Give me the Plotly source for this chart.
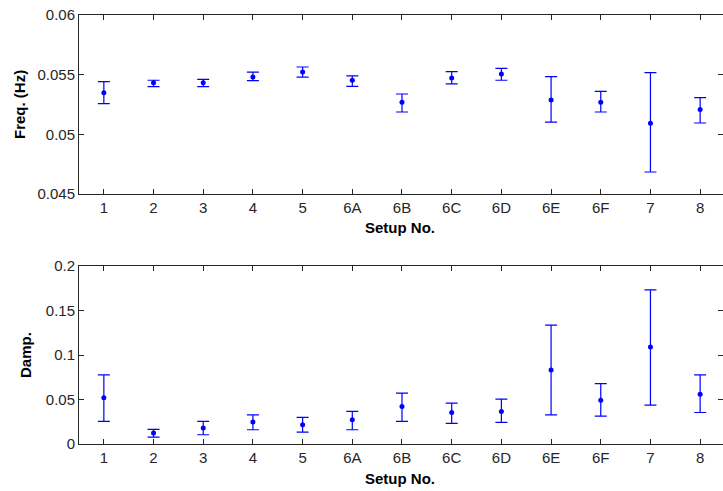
import plotly.graph_objects as go
from plotly.subplots import make_subplots

setups = ["1", "2", "3", "4", "5", "6A", "6B", "6C", "6D", "6E", "6F", "7", "8"]

freq_mean  = [0.05349, 0.05433, 0.05433, 0.05480, 0.05522, 0.05453, 0.05268, 0.05472, 0.05506, 0.05288, 0.05268, 0.05092, 0.05207]
freq_upper = [0.05441, 0.05453, 0.05461, 0.05522, 0.05564, 0.05489, 0.05338, 0.05525, 0.05553, 0.05483, 0.05360, 0.05517, 0.05307]
freq_lower = [0.05257, 0.05399, 0.05399, 0.05450, 0.05480, 0.05402, 0.05187, 0.05422, 0.05453, 0.05103, 0.05187, 0.04684, 0.05095]

damp_mean  = [0.0519, 0.0123, 0.0179, 0.0246, 0.0216, 0.0272, 0.0422, 0.0354, 0.0366, 0.0832, 0.0493, 0.1090, 0.0560]
damp_upper = [0.0776, 0.0164, 0.0254, 0.0328, 0.0299, 0.0366, 0.0571, 0.0459, 0.0504, 0.1336, 0.0679, 0.1731, 0.0776]
damp_lower = [0.0254, 0.0078, 0.0104, 0.0160, 0.0134, 0.0160, 0.0254, 0.0231, 0.0243, 0.0328, 0.0313, 0.0437, 0.0354]

freq_ticks = [0.045, 0.05, 0.055, 0.06]
freq_ticktext = ["0.045", "0.05", "0.055", "0.06"]
damp_ticks = [0, 0.05, 0.1, 0.15, 0.2]
damp_ticktext = ["0", "0.05", "0.1", "0.15", "0.2"]

BLUE = "#0000FF"
AX = "#262626"
FONT = "Liberation Sans, Arial, sans-serif"

fig = make_subplots(rows=2, cols=1)

def add_series(mean, upper, lower, row):
    fig.add_trace(go.Scatter(
        x=setups, y=mean, mode="markers",
        marker=dict(color=BLUE, size=5, symbol="circle"),
        error_y=dict(type="data", symmetric=False,
                     array=[u - m for u, m in zip(upper, mean)],
                     arrayminus=[m - l for m, l in zip(mean, lower)],
                     color=BLUE, thickness=1.2, width=6),
        showlegend=False), row=row, col=1)

add_series(freq_mean, freq_upper, freq_lower, 1)
add_series(damp_mean, damp_upper, damp_lower, 2)

xcommon = dict(type="category", categoryorder="array", categoryarray=setups,
               range=[-0.5, 12.46], showline=True, linecolor=AX, linewidth=1,
               mirror="ticks", ticks="inside", ticklen=5, tickcolor=AX,
               showgrid=False, zeroline=False,
               tickfont=dict(family=FONT, size=15, color=AX))
ycommon = dict(showline=True, linecolor=AX, linewidth=1, mirror="ticks",
               ticks="inside", ticklen=5, tickcolor=AX, showgrid=False,
               zeroline=False, tickfont=dict(family=FONT, size=15, color=AX))

fig.update_layout(
    width=723, height=491,
    margin=dict(l=79, r=0, t=15, b=47),
    paper_bgcolor="white", plot_bgcolor="white",
    xaxis=dict(**xcommon, domain=[0, 1], anchor="y"),
    xaxis2=dict(**xcommon, domain=[0, 1], anchor="y2"),
    yaxis=dict(**ycommon, domain=[0.5828, 1.0], range=[0.045, 0.06],
               tickvals=freq_ticks, ticktext=freq_ticktext, anchor="x"),
    yaxis2=dict(**ycommon, domain=[0.0, 0.4149], range=[0, 0.2],
                tickvals=damp_ticks, ticktext=damp_ticktext, anchor="x2"),
)

title_font = dict(family=FONT, size=15, color="black")
fig.add_annotation(text="<b>Setup No.</b>", xref="paper", yref="paper",
                   x=0.4984, y=0.5035, showarrow=False, font=title_font,
                   xanchor="center", yanchor="middle")
fig.add_annotation(text="<b>Setup No.</b>", xref="paper", yref="paper",
                   x=0.4984, y=-0.0793, showarrow=False, font=title_font,
                   xanchor="center", yanchor="middle")
fig.add_annotation(text="<b>Freq. (Hz)</b>", xref="paper", yref="paper",
                   x=-0.0932, y=0.7925, showarrow=False, font=title_font,
                   textangle=-90, xanchor="center", yanchor="middle")
fig.add_annotation(text="<b>Damp.</b>", xref="paper", yref="paper",
                   x=-0.0823, y=0.2075, showarrow=False, font=title_font,
                   textangle=-90, xanchor="center", yanchor="middle")

fig.write_html("out.html")
